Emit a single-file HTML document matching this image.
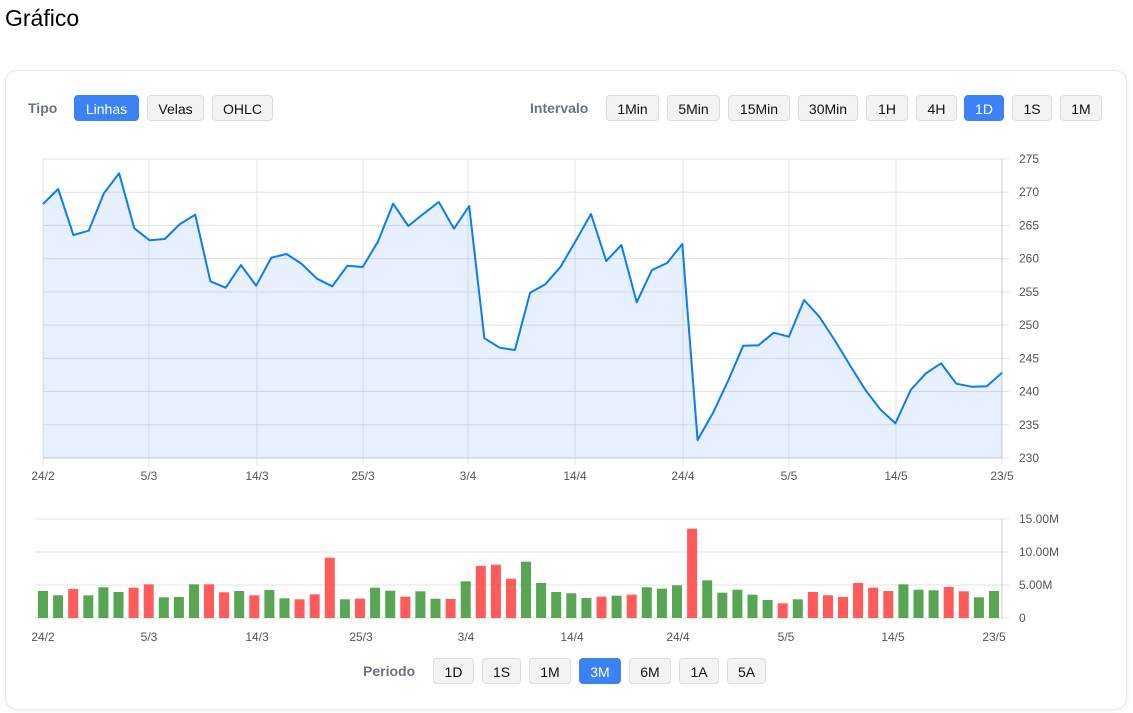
<!DOCTYPE html>
<html><head><meta charset="utf-8"><style>
body{margin:0;width:1133px;height:713px;background:#fff;font-family:"Liberation Sans",Arial,sans-serif;position:relative;overflow:hidden}
h1{position:absolute;left:5px;top:5px;margin:0;font-size:23px;font-weight:400;color:#000}
.card{position:absolute;left:5px;top:70px;width:1120px;height:638px;border:1px solid #e5e7eb;border-radius:12px;box-shadow:0 1px 4px rgba(0,0,0,.06)}
.b{position:absolute;height:26px;line-height:26px;border:1px solid #dcdcdc;background:#f3f3f3;border-radius:4px;font-size:14px;text-align:center;color:#111;box-sizing:border-box}
.b.on{background:#3b82f6;border-color:#3b82f6;color:#fff}
.l{position:absolute;font-size:14px;font-weight:700;color:#6b7280;line-height:26px}
svg{position:absolute;left:0;top:0}
</style></head><body>
<h1>Gráfico</h1>
<div class="card"></div>
<div class="l" style="left:28px;top:95px">Tipo</div>
<div class="b on" style="left:74px;top:95px;width:65px">Linhas</div>
<div class="b" style="left:147px;top:95px;width:57px">Velas</div>
<div class="b" style="left:212px;top:95px;width:61px">OHLC</div>
<div class="l" style="left:530px;top:95px">Intervalo</div>
<div class="b" style="left:606px;top:95px;width:53px">1Min</div>
<div class="b" style="left:667px;top:95px;width:53px">5Min</div>
<div class="b" style="left:728px;top:95px;width:62px">15Min</div>
<div class="b" style="left:798px;top:95px;width:60px">30Min</div>
<div class="b" style="left:866px;top:95px;width:42px">1H</div>
<div class="b" style="left:916px;top:95px;width:41px">4H</div>
<div class="b on" style="left:964px;top:95px;width:40px">1D</div>
<div class="b" style="left:1012px;top:95px;width:40px">1S</div>
<div class="b" style="left:1060px;top:95px;width:42px">1M</div>
<div class="l" style="left:363px;top:658px">Periodo</div>
<div class="b" style="left:433px;top:658px;width:41px">1D</div>
<div class="b" style="left:482px;top:658px;width:39px">1S</div>
<div class="b" style="left:529px;top:658px;width:42px">1M</div>
<div class="b on" style="left:579px;top:658px;width:42px">3M</div>
<div class="b" style="left:629px;top:658px;width:42px">6M</div>
<div class="b" style="left:679px;top:658px;width:40px">1A</div>
<div class="b" style="left:727px;top:658px;width:39px">5A</div>
<svg id="s" width="1133" height="713" font-family="Liberation Sans, Arial, sans-serif" font-size="12" fill="#555"></svg>
<script>
var s=document.getElementById('s'),h='';
for(var k=0;k<10;k++){var y=159+k*299/9;h+='<line x1="43" x2="1009" y1="'+y+'" y2="'+y+'" stroke="#e3e3e3"/>';h+='<text x="1019" y="'+(y+4)+'">'+(275-k*5)+'</text>';}
var xl=[[43,'24/2'],[149,'5/3'],[257,'14/3'],[363,'25/3'],[468,'3/4'],[575,'14/4'],[683,'24/4'],[789,'5/5'],[896,'14/5'],[1002,'23/5']];
xl.forEach(function(a){h+='<line x1="'+a[0]+'" x2="'+a[0]+'" y1="159" y2="465" stroke="#e3e3e3"/>';h+='<text x="'+a[0]+'" y="480" text-anchor="middle">'+a[1]+'</text>';});
h+='<line x1="1002" x2="1002" y1="159" y2="458" stroke="#ccc"/><line x1="43" x2="1002" y1="458" y2="458" stroke="#ccc"/>';
var z1=[162,117,255,242,130,70,235,271,267,222,194,394,413,345,407,323,312,342,386,409,347,351,275,161,228,191,156,236,168,565,593,600];
var z2=[428,403,350,272,192,333,285,457,360,339,282,870,790,693,587,586,548,560,450,500,570,645,718,778,820,720,670,640,701,710,709,668];
var ys=z1.concat(z2).map(function(v){return 150+v/3}),pts=[];
ys.forEach(function(y,i){pts.push((43+i*959/63).toFixed(1)+','+y.toFixed(1));});
h+='<polygon points="43,458 '+pts.join(' ')+' 1002,458" fill="rgba(59,130,246,0.12)"/>';
h+='<polyline points="'+pts.join(' ')+'" fill="none" stroke="#0a7cf5" stroke-width="2" stroke-linejoin="round"/>';
[[519,'15.00M'],[552,'10.00M'],[585,'5.00M'],[618,'0']].forEach(function(a){h+='<line x1="35" x2="1009" y1="'+a[0]+'" y2="'+a[0]+'" stroke="#e3e3e3"/><text x="1019" y="'+(a[0]+4)+'">'+a[1]+'</text>';});
h+='<line x1="1002" x2="1002" y1="519" y2="618" stroke="#ccc"/>';
var v='g243 g256 r237 g256 g232 g246 r233 r223 g262 g261 g223 r223 r247 g243 r256 g240 g265 r268 r253 r143 g268 r266 g233 g242 r260 g244 g266 r267 g214 r168 r164 r206 g155 g219 g246 g250 g264 r260 g257 r254 g232 g236 g226 r56 g211 g248 g239 g254 g270 r280 g268 r246 r256 r261 r219 r233 r243 g223 g239 g241 r231 r244 g262 g243'.split(' ');
v.forEach(function(t,i){var cx=43+i*951/63,top=510+(+t.slice(1))/3;h+='<rect x="'+(cx-5).toFixed(1)+'" y="'+top.toFixed(1)+'" width="10" height="'+(618-top).toFixed(1)+'" fill="'+(t[0]=='g'?'#4a9e45':'#ff4d4d')+'" opacity="0.92"/>';});
[[43,'24/2'],[149,'5/3'],[257,'14/3'],[361,'25/3'],[466,'3/4'],[572,'14/4'],[678,'24/4'],[786,'5/5'],[893,'14/5'],[994,'23/5']].forEach(function(a){h+='<text x="'+a[0]+'" y="641" text-anchor="middle">'+a[1]+'</text>';});
s.innerHTML=h;
</script>
</body></html>
